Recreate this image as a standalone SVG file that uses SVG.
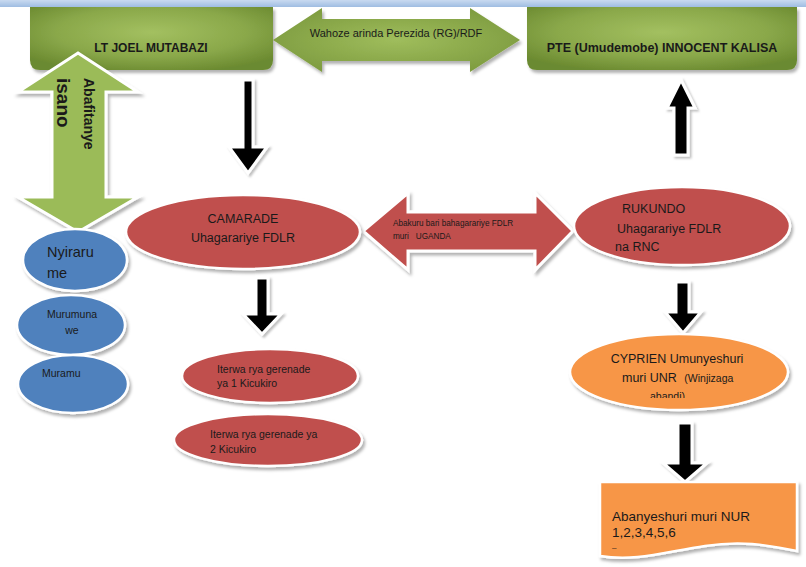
<svg xmlns="http://www.w3.org/2000/svg" width="806" height="567" viewBox="0 0 806 567">
<defs>
<radialGradient id="gBox" cx="50%" cy="40%" r="65%">
<stop offset="0" stop-color="#a3c060"/>
<stop offset="0.6" stop-color="#8aa84a"/>
<stop offset="1" stop-color="#6b8a30"/>
</radialGradient>
<radialGradient id="gArr" cx="50%" cy="50%" r="60%">
<stop offset="0" stop-color="#9fbd5c"/>
<stop offset="1" stop-color="#7c9a3e"/>
</radialGradient>
<linearGradient id="gBand" x1="0" y1="0" x2="0" y2="1">
<stop offset="0" stop-color="#c9daf0"/>
<stop offset="1" stop-color="#9fbde2"/>
</linearGradient>
<filter id="sh" x="-10%" y="-10%" width="130%" height="140%">
<feDropShadow dx="2" dy="3" stdDeviation="1.5" flood-color="#000" flood-opacity="0.3"/>
</filter>
<filter id="shs" x="-20%" y="-20%" width="150%" height="150%">
<feDropShadow dx="2" dy="2" stdDeviation="1.2" flood-color="#000" flood-opacity="0.25"/>
</filter>
<clipPath id="cyClip"><rect x="560" y="330" width="240" height="68"/></clipPath>
<style>
.t{font-family:"Liberation Sans",Arial,sans-serif;fill:#1a1a1a}
.b{font-weight:bold}
.box{fill:url(#gBox);filter:url(#sh)}
.red{fill:#c0504d;stroke:#fff;stroke-width:2.5;filter:url(#sh)}
.blue{fill:#4f81bd;stroke:#fff;stroke-width:2.5;filter:url(#sh)}
.org{fill:#f79646;stroke:#fff;stroke-width:2.5;filter:url(#sh)}
.blk{fill:#000;stroke:#fff;stroke-width:3;stroke-linejoin:miter;filter:url(#shs)}
.garr{fill:url(#gArr);filter:url(#sh)}
.garr2{fill:#9bbb59;stroke:#fff;stroke-width:3;filter:url(#sh)}
.rarr{fill:#c0504d;stroke:#fff;stroke-width:3;filter:url(#sh)}
</style>
</defs>
<rect x="0" y="0" width="806" height="567" fill="#fff"/>
<rect x="0" y="0" width="806" height="7" fill="url(#gBand)"/>

<g id="node-joel">
<path class="box" d="M30,7 H273 V60 Q273,70 263,70 H40 Q30,70 30,60 Z"/>
<text class="t b" x="151" y="52" font-size="12" text-anchor="middle">LT JOEL MUTABAZI</text>
</g>
<g id="node-innocent">
<path class="box" d="M527,7 H797 V60 Q797,70 787,70 H537 Q527,70 527,60 Z"/>
<text class="t b" x="662" y="52" font-size="12.5" text-anchor="middle">PTE (Umudemobe) INNOCENT KALISA</text>
</g>

<g id="connectors">
<g id="arrow-rg">
<polygon class="garr" points="273,40 322,8 322,19 470,19 470,8 520,40 470,72 470,61 322,61 322,72"/>
<text class="t" x="396" y="37" font-size="11" text-anchor="middle">Wahoze arinda Perezida (RG)/RDF</text>
</g>
<g id="arrow-isano">
<polygon class="garr2" points="78,53 138,92 106,92 106,197 138,197 78,232 18,197 52,197 52,92 18,92"/>
<text class="t b" transform="translate(84,78) rotate(90)" font-size="14">Abafitanye</text>
<text class="t b" transform="translate(57,78) rotate(90)" font-size="19">isano</text>
</g>
<polygon id="arrow-joel-camarade" class="blk" points="243,80 253,80 253,147 267,147 248,173 229,147 243,147"/>
<polygon id="arrow-rukundo-pte" class="blk" points="681,80 695,108 688,108 688,155 674,155 674,108 667,108"/>
<g id="arrow-uganda">
<polygon class="rarr" points="363,231 408,193 408,212 535,212 535,193 573,231 535,270 535,251 408,251 408,270"/>
<text class="t" x="393" y="226" font-size="8.2">Abakuru bari bahagarariye FDLR</text>
<text class="t" x="393" y="239" font-size="8.2" xml:space="preserve">muri   UGANDA</text>
</g>
<polygon id="arrow-camarade-iterwa" class="blk" points="256,278 268,278 268,314 281,314 262,334 243,314 256,314"/>
<polygon id="arrow-rukundo-cyprien" class="blk" points="676,282 689,282 689,312 701,312 683,333 665,312 676,312"/>
<polygon id="arrow-cyprien-nur" class="blk" points="678,423 692,423 692,463 707,463 685,482 663,463 678,463"/>
</g>

<g id="node-camarade">
<ellipse class="red" cx="243" cy="232" rx="117" ry="37"/>
<text class="t" x="243" y="223" font-size="12.5" text-anchor="middle">CAMARADE</text>
<text class="t" x="243" y="242" font-size="12.5" text-anchor="middle">Uhagarariye FDLR</text>
</g>
<g id="node-rukundo">
<ellipse class="red" cx="682" cy="226" rx="108" ry="39"/>
<text class="t" x="622" y="213" font-size="12.5">RUKUNDO</text>
<text class="t" x="617" y="233" font-size="12.5">Uhagarariye FDLR</text>
<text class="t" x="615" y="251" font-size="12.5">na RNC</text>
</g>
<g id="node-nyirarume">
<ellipse class="blue" cx="75" cy="260" rx="52" ry="31"/>
<text class="t" x="47" y="257" font-size="14.5">Nyiraru</text>
<text class="t" x="47" y="278" font-size="14.5">me</text>
</g>
<g id="node-murumuna">
<ellipse class="blue" cx="71" cy="325" rx="54" ry="30"/>
<text class="t" x="72" y="318" font-size="10.5" text-anchor="middle">Murumuna</text>
<text class="t" x="72" y="334" font-size="10.5" text-anchor="middle">we</text>
</g>
<g id="node-muramu">
<ellipse class="blue" cx="73" cy="384" rx="55" ry="29"/>
<text class="t" x="42" y="377" font-size="10.5">Muramu</text>
</g>
<g id="node-iterwa1">
<ellipse class="red" cx="270" cy="376" rx="88" ry="27"/>
<text class="t" x="217" y="373" font-size="10.5">Iterwa rya gerenade</text>
<text class="t" x="217" y="387" font-size="10.5">ya 1 Kicukiro</text>
</g>
<g id="node-iterwa2">
<ellipse class="red" cx="268" cy="440" rx="94" ry="26"/>
<text class="t" x="210" y="438" font-size="10.5">Iterwa rya gerenade ya</text>
<text class="t" x="210" y="453" font-size="10.5">2 Kicukiro</text>
</g>
<g id="node-cyprien">
<ellipse class="org" cx="679" cy="372" rx="109" ry="38"/>
<g clip-path="url(#cyClip)">
<text class="t" x="677" y="363" font-size="12.5" text-anchor="middle">CYPRIEN Umunyeshuri</text>
<text class="t" x="622" y="382" font-size="12.5">muri UNR <tspan font-size="10.5" dx="4">(Winjizaga</tspan></text>
<text class="t" x="650" y="400" font-size="10.5">abandi)</text>
</g>
</g>
<g id="node-nur">
<path class="org" d="M600,482 H797 V551 C770,546 745,540 705,546 C665,552 635,562 600,556 Z"/>
<text class="t" x="612" y="521" font-size="13.5">Abanyeshuri muri NUR</text>
<text class="t" x="612" y="537" font-size="13.5">1,2,3,4,5,6</text>
<text class="t" x="612" y="550" font-size="8">–</text>
</g>
</svg>
